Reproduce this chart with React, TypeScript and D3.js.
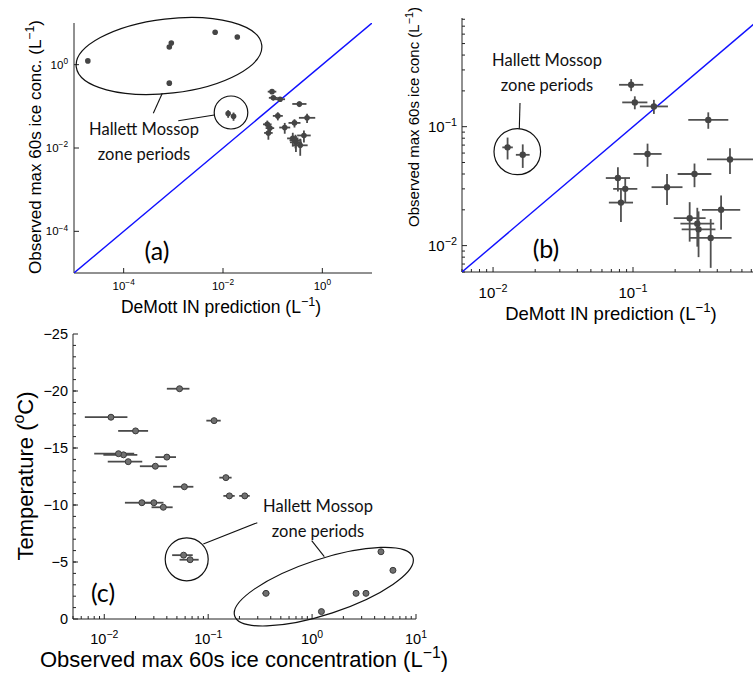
import React, { useRef, useEffect } from "react";
import * as d3 from "d3";

// periods outside the Hallett Mossop zone
const obsConc = [0.225, 0.16, 0.148, 0.114, 0.059, 0.053, 0.04, 0.037, 0.03, 0.023, 0.031, 0.02, 0.017, 0.0153, 0.0137, 0.0116];
const obsErr = [0.026, 0.02, 0.02, 0.018, 0.013, 0.013, 0.009, 0.0085, 0.0071, 0.0072, 0.009, 0.0064, 0.0062, 0.0055, 0.0057, 0.0051];
const demottPred = [0.097, 0.103, 0.141, 0.345, 0.127, 0.493, 0.275, 0.078, 0.088, 0.082, 0.175, 0.426, 0.254, 0.288, 0.294, 0.359];
const demottFactor = [1.22, 1.23, 1.26, 1.39, 1.26, 1.46, 1.32, 1.22, 1.22, 1.22, 1.29, 1.37, 1.3, 1.32, 1.32, 1.41];
const temperature = [-10.8, -10.8, -12.4, -17.4, -11.6, -20.2, -14.2, -9.8, -10.2, -10.2, -13.4, -16.5, -13.8, -14.4, -14.5, -17.7];

// Hallett Mossop zone periods, low concentration (small circle)
const hmLowObs = [0.067, 0.058];
const hmLowErr = [0.014, 0.013];
const hmLowPred = [0.0127, 0.0163];
const hmLowFactor = [1.09, 1.12];
const hmLowTemp = [-5.2, -5.6];

// Hallett Mossop zone periods, high concentration (big ellipse)
const hmHighObs = [1.23, 2.65, 3.3, 6.0, 4.6, 0.36];
const hmHighErr = [0.04, 0.06, 0.06, 0.1, 0.1, 0.028];
const hmHighPred = [1.9e-5, 8.3e-4, 9.1e-4, 6.95e-3, 0.0194, 8.3e-4];
const hmHighTemp = [-0.65, -2.25, -2.25, -4.27, -5.9, -2.25];

// ticks
const aTicks = [1e-4, 1e-2, 1e0];
const bTicks = [1e-2, 1e-1];
const cXTicks = [1e-2, 1e-1, 1e0, 1e1];
const cYTicks = [0, -5, -10, -15, -20, -25];

const AXIS_FONT = "'Liberation Sans', Arial, Helvetica, sans-serif";
const NOTE_FONT = "Lato, 'Open Sans', sans-serif";

function minorLogTicks(lo, hi) {
  const out = [];
  for (let k = Math.floor(Math.log10(lo)); k <= Math.ceil(Math.log10(hi)); k++) {
    for (let m = 2; m <= 9; m++) {
      const v = m * Math.pow(10, k);
      if (v >= lo && v <= hi) out.push(v);
    }
  }
  return out;
}

function expLabel(v) {
  const e = Math.round(Math.log10(v));
  return e < 0 ? "\u2212" + Math.abs(e) : String(e);
}

// base text + superscript + tail
function supText(sel, base, sup, tail, fs) {
  sel.append("tspan").text(base);
  sel.append("tspan").attr("dy", -fs * 0.42).attr("font-size", fs * 0.72).text(sup);
  if (tail) sel.append("tspan").attr("dy", fs * 0.42).text(tail);
}

function drawAxes(g, x, y, o) {
  const [x0, x1] = x.range();
  const [y0, y1] = y.range();
  g.append("line").attr("x1", x0).attr("x2", x0).attr("y1", y0).attr("y2", y1)
    .attr("stroke", "#222").attr("stroke-width", 1);
  g.append("line").attr("x1", x0).attr("x2", x1).attr("y1", y0).attr("y2", y0)
    .attr("stroke", "#222").attr("stroke-width", 1);

  const tick = (vals, len, isX) => {
    g.selectAll(null).data(vals).join("line")
      .attr("x1", d => (isX ? x(d) : x0))
      .attr("x2", d => (isX ? x(d) : x0 + len))
      .attr("y1", d => (isX ? y0 : y(d)))
      .attr("y2", d => (isX ? y0 - len : y(d)))
      .attr("stroke", "#222").attr("stroke-width", 1);
  };
  tick(o.xMajor, 5, true);
  tick(o.xMinor || [], 3, true);
  tick(o.yMajor, 5, false);
  tick(o.yMinor || [], 3, false);

  o.xMajor.forEach(v => {
    const t = g.append("text").attr("x", x(v)).attr("y", y0 + o.xLabOff)
      .attr("text-anchor", "middle").attr("font-family", AXIS_FONT).attr("font-size", o.tickFs);
    if (o.xLog) supText(t, "10", expLabel(v), "", o.tickFs);
    else t.text(v);
  });
  o.yMajor.forEach(v => {
    const t = g.append("text").attr("x", x0 - o.yLabGap).attr("y", y(v) + o.tickFs * 0.36)
      .attr("text-anchor", "end").attr("font-family", AXIS_FONT).attr("font-size", o.tickFs);
    if (o.yLog) supText(t, "10", expLabel(v), "", o.tickFs);
    else t.text(v === 0 ? "0" : "\u2212" + Math.abs(v));
  });
}

function drawPoints(g, x, y, pts, st) {
  const gp = g.append("g");
  pts.forEach(p => {
    if (p.x0 !== p.x1)
      gp.append("line").attr("x1", x(p.x0)).attr("x2", x(p.x1)).attr("y1", y(p.y)).attr("y2", y(p.y))
        .attr("stroke", st.bar).attr("stroke-width", st.barW);
    if (p.y0 !== undefined)
      gp.append("line").attr("x1", x(p.x)).attr("x2", x(p.x)).attr("y1", y(p.y0)).attr("y2", y(p.y1))
        .attr("stroke", st.bar).attr("stroke-width", st.barW);
  });
  gp.selectAll("circle").data(pts).join("circle")
    .attr("cx", d => x(d.x)).attr("cy", d => y(d.y)).attr("r", st.r)
    .attr("fill", st.fill).attr("stroke", st.stroke || "none").attr("stroke-width", 1);
}

function note(g, cx, y1, y2, fs) {
  [["Hallett Mossop", y1], ["zone periods", y2]].forEach(([t, yy]) =>
    g.append("text").attr("x", cx).attr("y", yy).attr("text-anchor", "middle")
      .attr("font-family", NOTE_FONT).attr("font-size", fs).attr("fill", "#111").text(t));
}

function ring(g, cx, cy, rx, ry, rot) {
  g.append("ellipse").attr("cx", 0).attr("cy", 0).attr("rx", rx).attr("ry", ry)
    .attr("transform", `translate(${cx},${cy}) rotate(${rot})`)
    .attr("fill", "none").attr("stroke", "#111").attr("stroke-width", 1.2);
}

function leader(g, x1, y1, x2, y2) {
  g.append("line").attr("x1", x1).attr("y1", y1).attr("x2", x2).attr("y2", y2)
    .attr("stroke", "#111").attr("stroke-width", 1.1);
}

function clip(svg, id, x, y) {
  const [x0, x1] = x.range();
  const [y0, y1] = y.range();
  svg.select("defs").append("clipPath").attr("id", id).append("rect")
    .attr("x", x0).attr("y", Math.min(y0, y1)).attr("width", x1 - x0).attr("height", Math.abs(y0 - y1));
}

export default function App() {
  const svgRef = useRef(null);

  useEffect(() => {
    const svg = d3.select(svgRef.current);
    svg.selectAll("*").remove();
    svg.append("defs");

    // points shared by panels a and b
    const predPts = [
      ...obsConc.map((v, i) => ({ x: demottPred[i], x0: demottPred[i] / demottFactor[i], x1: demottPred[i] * demottFactor[i], y: v, y0: v - obsErr[i], y1: v + obsErr[i] })),
      ...hmLowObs.map((v, i) => ({ x: hmLowPred[i], x0: hmLowPred[i] / hmLowFactor[i], x1: hmLowPred[i] * hmLowFactor[i], y: v, y0: v - hmLowErr[i], y1: v + hmLowErr[i] })),
    ];
    const highPts = hmHighObs.map((v, i) => ({ x: hmHighPred[i], x0: hmHighPred[i], x1: hmHighPred[i], y: v, y0: v - hmHighErr[i], y1: v + hmHighErr[i] }));

    // ---- panel (a)
    const ax = d3.scaleLog().domain([1e-5, 10]).range([74, 372]);
    const ay = d3.scaleLog().domain([1e-5, 10]).range([273, 23]);
    clip(svg, "clipA", ax, ay);
    const ga = svg.append("g");
    drawAxes(ga, ax, ay, { xMajor: aTicks, yMajor: aTicks, xLog: true, yLog: true, tickFs: 11.5, xLabOff: 17, yLabGap: 6 });
    ga.append("path").datum(ax.domain()).attr("clip-path", "url(#clipA)")
      .attr("d", d3.line().x(d => ax(d)).y(d => ay(d)))
      .attr("stroke", "#1010ff").attr("stroke-width", 1.4).attr("fill", "none");
    const pa = ga.append("g").attr("clip-path", "url(#clipA)");
    drawPoints(pa, ax, ay, [...predPts, ...highPts], { r: 2.8, fill: "#454545", bar: "#4a4a4a", barW: 1.8 });
    ring(ga, 169, 56, 93.4, 37.2, -6.7);
    ring(ga, 231, 112.5, 16.8, 16.5, 0);
    leader(ga, 162.3, 93.3, 153.3, 113.3);
    leader(ga, 178.3, 120.7, 214.3, 115);
    note(ga, 144, 135, 160, 16.5);
    ga.append("text").attr("x", 157).attr("y", 260).attr("text-anchor", "middle")
      .attr("font-family", NOTE_FONT).attr("font-size", 25).text("(a)");
    supText(ga.append("text").attr("x", 221).attr("y", 313).attr("text-anchor", "middle")
      .attr("font-family", AXIS_FONT).attr("font-size", 17.5), "DeMott IN prediction (L", "\u22121", ")", 17.5);
    supText(ga.append("text").attr("transform", "translate(41,147) rotate(-90)").attr("text-anchor", "middle")
      .attr("font-family", AXIS_FONT).attr("font-size", 17), "Observed max 60s ice conc. (L", "\u22121", ")", 17);

    // ---- panel (b)
    const bx = d3.scaleLog().domain([0.006, 0.72]).range([462, 753]);
    const by = d3.scaleLog().domain([0.006, 0.82]).range([272, 18]);
    clip(svg, "clipB", bx, by);
    const gb = svg.append("g");
    drawAxes(gb, bx, by, {
      xMajor: bTicks, yMajor: bTicks, xMinor: minorLogTicks(0.006, 0.72), yMinor: minorLogTicks(0.006, 0.82),
      xLog: true, yLog: true, tickFs: 15, xLabOff: 26, yLabGap: 5,
    });
    gb.append("path").datum(by.domain()).attr("clip-path", "url(#clipB)")
      .attr("d", d3.line().x(d => bx(d)).y(d => by(d)))
      .attr("stroke", "#1010ff").attr("stroke-width", 1.4).attr("fill", "none");
    const pb = gb.append("g").attr("clip-path", "url(#clipB)");
    drawPoints(pb, bx, by, predPts, { r: 3.2, fill: "#454545", bar: "#505050", barW: 1.8 });
    ring(gb, 517.3, 151.7, 23.3, 23, 0);
    leader(gb, 519.3, 128.7, 520, 103);
    note(gb, 547, 66, 91, 16.5);
    gb.append("text").attr("x", 546).attr("y", 258).attr("text-anchor", "middle")
      .attr("font-family", NOTE_FONT).attr("font-size", 25).text("(b)");
    supText(gb.append("text").attr("x", 611).attr("y", 320).attr("text-anchor", "middle")
      .attr("font-family", AXIS_FONT).attr("font-size", 18.5), "DeMott IN prediction (L", "\u22121", ")", 18.5);
    supText(gb.append("text").attr("transform", "translate(419,117) rotate(-90)").attr("text-anchor", "middle")
      .attr("font-family", AXIS_FONT).attr("font-size", 15), "Observed max 60s ice conc (L", "\u22121", ")", 15);

    // ---- panel (c)
    const cx = d3.scaleLog().domain([0.005, 10]).range([73, 416]);
    const cy = d3.scaleLinear().domain([0, -25]).range([619, 334]);
    const gc = svg.append("g");
    drawAxes(gc, cx, cy, {
      xMajor: cXTicks, yMajor: cYTicks, xMinor: minorLogTicks(0.005, 10), yMinor: d3.range(-1, -25, -1),
      xLog: true, yLog: false, tickFs: 14.5, xLabOff: 25, yLabGap: 5,
    });
    const tempPts = [
      ...obsConc.map((v, i) => ({ x: v, x0: v - obsErr[i], x1: v + obsErr[i], y: temperature[i] })),
      ...hmLowObs.map((v, i) => ({ x: v, x0: v - hmLowErr[i], x1: v + hmLowErr[i], y: hmLowTemp[i] })),
      ...hmHighObs.map((v, i) => ({ x: v, x0: v - hmHighErr[i], x1: v + hmHighErr[i], y: hmHighTemp[i] })),
    ];
    drawPoints(gc, cx, cy, tempPts, { r: 3, fill: "#707070", stroke: "#3a3a3a", bar: "#4a4a4a", barW: 1.8 });
    ring(gc, 186.7, 559.3, 21.5, 21.5, 0);
    ring(gc, 323.8, 586.7, 93.8, 27.6, -18.2);
    leader(gc, 203.3, 544, 257.3, 522.7);
    leader(gc, 311.7, 540.7, 324.3, 556.7);
    note(gc, 318, 512, 537, 16.5);
    gc.append("text").attr("x", 103).attr("y", 602).attr("text-anchor", "middle")
      .attr("font-family", NOTE_FONT).attr("font-size", 25).text("(c)");
    supText(gc.append("text").attr("x", 244).attr("y", 667).attr("text-anchor", "middle")
      .attr("font-family", AXIS_FONT).attr("font-size", 22), "Observed max 60s ice concentration (L", "\u22121", ")", 22);
    supText(gc.append("text").attr("transform", "translate(33,476) rotate(-90)").attr("text-anchor", "middle")
      .attr("font-family", AXIS_FONT).attr("font-size", 22), "Temperature (", "o", "C)", 22);
  }, []);

  return (
    <svg ref={svgRef} width={754} height={674}
      style={{ position: "absolute", left: 0, top: 0, background: "#fff" }} />
  );
}
